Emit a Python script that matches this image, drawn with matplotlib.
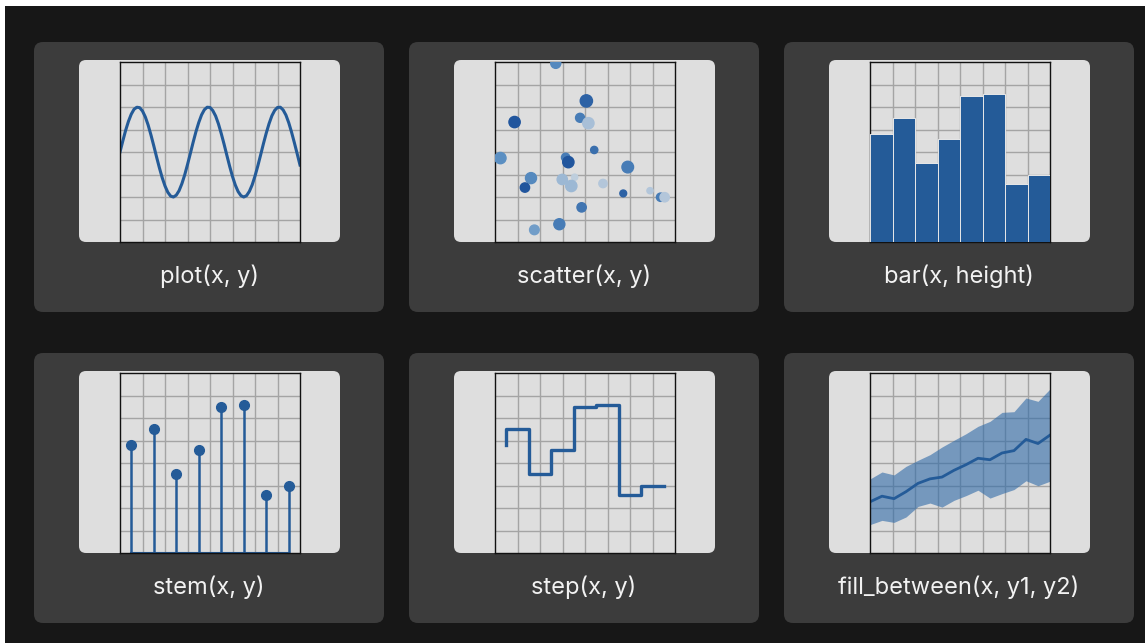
import matplotlib
matplotlib.use("Agg")
import matplotlib.pyplot as plt
from matplotlib.patches import FancyBboxPatch, Rectangle
from matplotlib.colors import LinearSegmentedColormap

W, H = 1145, 643

# ---- data ----
titles = ["plot(x, y)", "scatter(x, y)", "bar(x, height)",
          "stem(x, y)", "step(x, y)", "fill_between(x, y1, y2)"]

# plot: sampled wave
line_x = [0, 0.125, 0.25, 0.375, 0.5, 0.625, 0.75, 0.875, 1.0, 1.125, 1.25,
          1.375, 1.5, 1.625, 1.75, 1.875, 2.0, 2.125, 2.25, 2.375, 2.5, 2.625,
          2.75, 2.875, 3.0, 3.125, 3.25, 3.375, 3.5, 3.625, 3.75, 3.875, 4.0,
          4.125, 4.25, 4.375, 4.5, 4.625, 4.75, 4.875, 5.0, 5.125, 5.25, 5.375,
          5.5, 5.625, 5.75, 5.875, 6.0, 6.125, 6.25, 6.375, 6.5, 6.625, 6.75,
          6.875, 7.0, 7.125, 7.25, 7.375, 7.5, 7.625, 7.75, 7.875, 8.0]
line_y = [4.00, 4.49, 4.96, 5.36, 5.68, 5.90, 5.99, 5.97, 5.82, 5.56, 5.20,
          4.76, 4.28, 3.78, 3.30, 2.86, 2.49, 2.21, 2.04, 2.00, 2.08, 2.28,
          2.59, 2.98, 3.44, 3.93, 4.43, 4.90, 5.31, 5.65, 5.88, 5.99, 5.98,
          5.84, 5.60, 5.25, 4.82, 4.35, 3.85, 3.36, 2.91, 2.53, 2.24, 2.06,
          2.00, 2.06, 2.25, 2.54, 2.93, 3.38, 3.87, 4.37, 4.84, 5.26, 5.61,
          5.85, 5.98, 5.99, 5.87, 5.64, 5.30, 4.88, 4.41, 3.92, 3.42]

# scatter
sc_x = [2.70, 4.06, 0.87, 3.78, 4.15, 4.41, 0.24, 3.14, 3.26, 5.90, 1.60, 1.33,
        2.99, 3.54, 3.39, 4.80, 5.70, 6.89, 7.36, 7.54, 3.85, 2.86, 1.75]
sc_y = [7.94, 6.27, 5.33, 5.52, 5.28, 4.09, 3.73, 3.76, 3.55, 3.33, 2.84, 2.42,
        2.78, 2.88, 2.49, 2.60, 2.16, 2.28, 1.99, 1.99, 1.54, 0.79, 0.54]
sc_size = [52, 78, 66, 42, 66, 27, 66, 36, 66, 70, 63, 45,
           55, 20, 66, 36, 24, 20, 36, 45, 45, 63, 48]
sc_color = [0.55, 0.85, 0.95, 0.65, 0.15, 0.75, 0.5, 0.65, 0.95, 0.65, 0.55, 0.95,
            0.2, 0.05, 0.2, 0.1, 0.85, 0.1, 0.65, 0.1, 0.7, 0.65, 0.4]

# bar / stem / step
bx = [0.5, 1.5, 2.5, 3.5, 4.5, 5.5, 6.5, 7.5]
by = [4.8, 5.5, 3.5, 4.6, 6.5, 6.6, 2.6, 3.0]

# fill_between
fx = [0, 0.533, 1.067, 1.6, 2.133, 2.667, 3.2, 3.733, 4.267, 4.8, 5.333,
      5.867, 6.4, 6.933, 7.467, 8.0]
fy1 = [3.29, 3.60, 3.47, 3.85, 4.12, 4.37, 4.71, 5.01, 5.30, 5.63, 5.85,
       6.25, 6.28, 6.89, 6.74, 7.29]
fy2 = [1.26, 1.45, 1.36, 1.60, 2.07, 2.22, 2.04, 2.34, 2.55, 2.79, 2.44,
       2.64, 2.82, 3.21, 2.99, 3.19]

BLUE = "#245b98"
BG = "#171717"
CARD = "#3c3c3c"
PANEL = "#dedede"

col_x = [34, 409, 784]
row_y = [42, 353]
card_w, card_h = 350, 270

fig = plt.figure(figsize=(W / 100, H / 100), dpi=100)
fig.patch.set_facecolor(BG)

# background axes in pixel units
bg = fig.add_axes([0, 0, 1, 1])
bg.set_xlim(0, W)
bg.set_ylim(H, 0)
bg.axis("off")
bg.set_zorder(-1)

bg.add_patch(Rectangle((0, 0), W, 6, color="white", lw=0))
bg.add_patch(Rectangle((0, 0), 5, H, color="white", lw=0))


def style_ax(ax):
    ax.set_facecolor(PANEL)
    ax.set_xlim(0, 8)
    ax.set_ylim(0, 8)
    ax.set_xticks(range(1, 8))
    ax.set_yticks(range(1, 8))
    ax.tick_params(length=0, labelbottom=False, labelleft=False)
    ax.grid(True, color="#a4a4a4", lw=1)
    ax.set_axisbelow(True)
    for s in ax.spines.values():
        s.set_color("#111111")
        s.set_linewidth(1)


axes = []
for r, y0 in enumerate(row_y):
    for c, x0 in enumerate(col_x):
        bg.add_patch(FancyBboxPatch((x0, y0), card_w, card_h,
                                    boxstyle="round,pad=0,rounding_size=9",
                                    fc=CARD, ec="none"))
        bg.add_patch(FancyBboxPatch((x0 + 45, y0 + 18), 261, 182,
                                    boxstyle="round,pad=0,rounding_size=7",
                                    fc=PANEL, ec="none"))
        bg.text(x0 + card_w / 2, y0 + 234, titles[r * 3 + c], color="#f2f2f2",
                fontsize=17, ha="center", va="center",
                family=["Inter", "DejaVu Sans"])
        ax = fig.add_axes([(x0 + 86) / W, 1 - (y0 + 20 + 180) / H, 180 / W, 180 / H])
        style_ax(ax)
        axes.append(ax)

# plot
axes[0].plot(line_x, line_y, color=BLUE, lw=2.2, solid_joinstyle="round")

# scatter
dots = LinearSegmentedColormap.from_list("dots", ["#c8d4e0", "#5b8fc2", "#1a4f99"])
axes[1].scatter(sc_x, sc_y, s=sc_size, c=sc_color, cmap=dots, vmin=0, vmax=1,
                zorder=3)

# bar
axes[2].bar(bx, by, width=1, color=BLUE, edgecolor="#e8e8e8", linewidth=0.7, zorder=3)

# stem
ml, sl, bl = axes[3].stem(bx, by)
ml.set_color(BLUE)
ml.set_markersize(7)
sl.set_color(BLUE)
sl.set_linewidth(1.8)
bl.set_color(BLUE)
bl.set_linewidth(1.5)

# step
axes[4].step(bx, by, color=BLUE, lw=2.4)

# fill_between
mid = [(a + b) / 2 for a, b in zip(fy1, fy2)]
axes[5].fill_between(fx, fy1, fy2, color="#2f6aa8", alpha=0.6, linewidth=0)
axes[5].plot(fx, mid, color=BLUE, lw=2)

fig.savefig("out.png", dpi=100, facecolor=BG)
